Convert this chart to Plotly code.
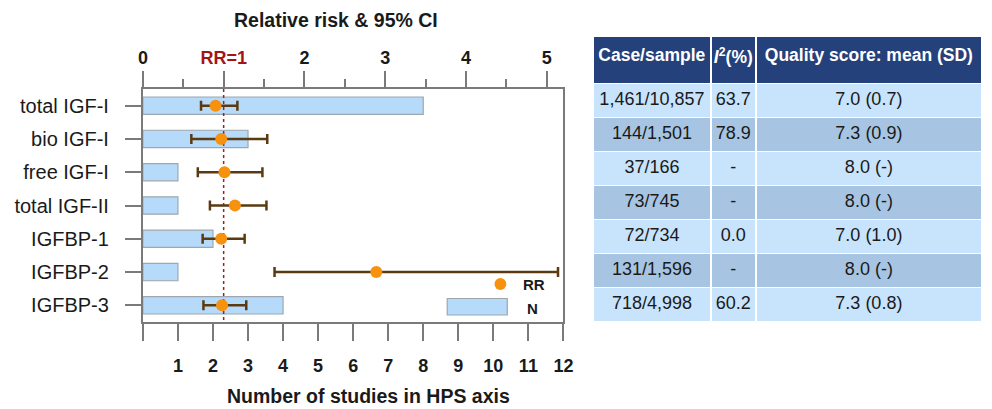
import plotly.graph_objects as go

# ---- data -------------------------------------------------------------
categories = ["total IGF-I", "bio IGF-I", "free IGF-I", "total IGF-II",
              "IGFBP-1", "IGFBP-2", "IGFBP-3"]
n_studies = [8, 3, 1, 1, 2, 1, 4]
rr = [0.90, 0.97, 1.01, 1.14, 0.97, 2.89, 0.98]
rr_low = [0.72, 0.60, 0.68, 0.83, 0.74, 1.63, 0.75]
rr_high = [1.17, 1.54, 1.48, 1.53, 1.26, 5.14, 1.28]
rr_ref = 1

case_sample = ["1,461/10,857", "144/1,501", "37/166", "73/745",
               "72/734", "131/1,596", "718/4,998"]
i2_pct = ["63.7", "78.9", "-", "-", "0.0", "-", "60.2"]
quality = ["7.0 (0.7)", "7.3 (0.9)", "8.0 (-)", "8.0 (-)",
           "7.0 (1.0)", "8.0 (-)", "7.3 (0.8)"]
# non-breaking spaces keep each header on a single line
table_header = ["<b>Case/sample</b>", "<b><i>I</i><sup>2</sup>(%)</b>",
                "<b>Quality\u00a0score:\u00a0mean\u00a0(SD)</b>"]

study_ticks = list(range(1, 13))
study_ticktext = [str(v) for v in study_ticks]
rr_ticks = [0, 1, 2, 3, 4, 5]
rr_ticktext = ["0", "<span style='color:#A31515'>RR=1</span>", "2", "3", "4", "5"]

# ---- layout helpers (pixel -> paper) -----------------------------------
W, H = 992, 409
FONT = "Arial, Liberation Sans, sans-serif"


def px(x):
    return x / W


def py(y):
    return 1 - y / H


rows = list(range(len(categories)))
AX_GREY = "#7A7A7A"
TXT = "#1A1A1A"
NAVY = "#24417B"

# table geometry (pixels)
TBL_LEFT, TBL_TOP = 597, 36.5
HEAD_H, CELL_H = 47, 34

fig = go.Figure()

# number of studies (bottom axis)
fig.add_trace(go.Bar(
    x=n_studies, y=rows, orientation="h", width=0.52,
    marker=dict(color="#B5DAFA", line=dict(color="#9EA7AF", width=1.2)),
    xaxis="x", yaxis="y", showlegend=False, hoverinfo="skip",
))

# RR = 1 reference line (top axis)
fig.add_trace(go.Scatter(
    x=[rr_ref, rr_ref], y=[-0.5, len(categories) - 0.5], mode="lines",
    line=dict(color="#A61B1B", width=1.5, dash="3px,3px"),
    xaxis="x2", yaxis="y", showlegend=False, hoverinfo="skip",
))

# relative risk with 95% CI (top axis)
fig.add_trace(go.Scatter(
    x=rr, y=rows, mode="markers",
    marker=dict(size=12, color="#F7920F"),
    error_x=dict(type="data", symmetric=False,
                 array=[h - r for h, r in zip(rr_high, rr)],
                 arrayminus=[r - l for r, l in zip(rr, rr_low)],
                 color="#5B3A12", thickness=2.5, width=5),
    xaxis="x2", yaxis="y", showlegend=False,
))

# summary table on the right
row_fill = ["#C8E3FC" if i % 2 == 0 else "#A7C5E2" for i in rows]
fig.add_trace(go.Table(
    domain=dict(x=[px(TBL_LEFT), 1.0], y=[0.18, py(TBL_TOP)]),
    columnwidth=[119.7, 45.6, 229.7],
    header=dict(values=table_header, fill_color=NAVY,
                line=dict(color="white", width=1.5),
                font=dict(color="white", size=17.5, family=FONT),
                align="center", height=HEAD_H),
    cells=dict(values=[case_sample, i2_pct, quality],
               fill_color=[row_fill] * 3,
               line=dict(color="white", width=1.5),
               font=dict(color=TXT, size=18, family=FONT),
               align="center", height=CELL_H),
))

fig.update_layout(
    width=W, height=H,
    margin=dict(l=0, r=0, t=0, b=0),
    paper_bgcolor="white", plot_bgcolor="white",
    font=dict(family=FONT, color=TXT),
    showlegend=False,
    xaxis=dict(
        domain=[px(140), px(567)], range=[0, 12], anchor="y",
        tickmode="array", tickvals=study_ticks, ticktext=study_ticktext,
        ticks="outside", ticklen=17, tickwidth=1.5, tickcolor=AX_GREY,
        minor=dict(tickmode="array", tickvals=[0], ticks="outside",
                   ticklen=17, tickwidth=1.5, tickcolor=AX_GREY),
        showline=True, linecolor=AX_GREY, linewidth=2,
        showgrid=False, zeroline=False, ticklabelstandoff=9,
        tickfont=dict(size=18, family=FONT, weight="bold", color=TXT),
    ),
    xaxis2=dict(
        overlaying="x", side="top", anchor="y", range=[0, 5.207],
        tickmode="array", tickvals=rr_ticks, ticktext=rr_ticktext,
        ticks="outside", ticklen=16, tickwidth=1.5, tickcolor=AX_GREY,
        minor=dict(tickmode="linear", tick0=0, dtick=0.5, ticks="outside",
                   ticklen=8, tickwidth=1.5, tickcolor=AX_GREY),
        showline=True, linecolor=AX_GREY, linewidth=2,
        showgrid=False, zeroline=False, ticklabelstandoff=0,
        tickfont=dict(size=18, family=FONT, weight="bold", color=TXT),
    ),
    yaxis=dict(
        domain=[py(322), py(89)], range=[len(categories) - 0.5, -0.5],
        tickmode="array", tickvals=rows, ticktext=categories,
        ticks="outside", ticklen=16, tickwidth=1.5, tickcolor=AX_GREY,
        showline=True, mirror=True, linecolor=AX_GREY, linewidth=2,
        showgrid=False, zeroline=False, ticklabelstandoff=12,
        tickfont=dict(size=20, family=FONT, color=TXT),
    ),
)

# axis titles
fig.add_annotation(text="<b>Relative risk & 95% CI</b>", x=px(336), y=py(20),
                   xref="paper", yref="paper", xanchor="center", yanchor="middle",
                   showarrow=False, font=dict(size=19.5, family=FONT, color=TXT))
fig.add_annotation(text="<b>Number of studies in HPS axis</b>", x=px(369), y=py(396),
                   xref="paper", yref="paper", xanchor="center", yanchor="middle",
                   showarrow=False, font=dict(size=19.5, family=FONT, color=TXT))

# legend key drawn inside the plot area
fig.add_shape(type="circle", xref="paper", yref="paper",
              x0=px(497), x1=px(509), y0=py(290), y1=py(278),
              fillcolor="#F7920F", line=dict(width=0))
fig.add_shape(type="rect", xref="paper", yref="paper",
              x0=px(449), x1=px(510), y0=py(315), y1=py(298.5),
              fillcolor="#B5DAFA", line=dict(color="#9EA7AF", width=1.2))
fig.add_annotation(text="<b>RR</b>", x=px(537), y=py(284), xref="paper", yref="paper",
                   xanchor="center", yanchor="middle", showarrow=False,
                   font=dict(size=15, family=FONT, color=TXT))
fig.add_annotation(text="<b>N</b>", x=px(536), y=py(308), xref="paper", yref="paper",
                   xanchor="center", yanchor="middle", showarrow=False,
                   font=dict(size=15, family=FONT, color=TXT))

fig.write_html("out.html")
